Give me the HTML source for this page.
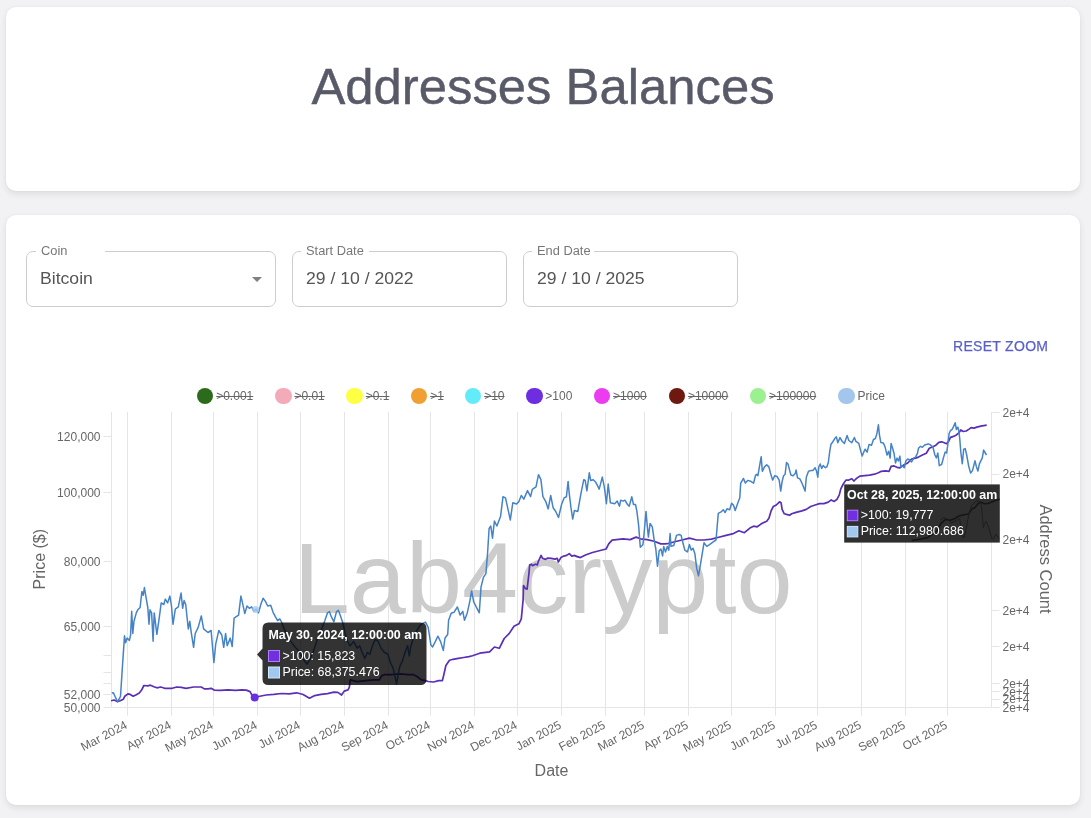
<!DOCTYPE html>
<html><head><meta charset="utf-8"><title>Addresses Balances</title>
<style>
*{box-sizing:border-box;margin:0;padding:0}
html,body{width:1091px;height:818px;overflow:hidden}
body{background:#f2f2f4;font-family:"Liberation Sans",sans-serif;position:relative}
.card{position:absolute;left:6px;width:1074px;background:#fff;border-radius:10px;box-shadow:0 3px 7px 0 rgba(0,0,0,0.09),0 0 2px 0 rgba(0,0,0,0.06)}
.c1{top:7px;height:184px}
.c2{top:215px;height:590px}
h1{position:absolute;left:6px;width:1074px;top:57.7px;text-align:center;font-size:50.8px;font-weight:normal;color:#585a68;line-height:57px;-webkit-text-stroke:0.45px #585a68}
.fld{position:absolute;top:251px;height:56px;border:1px solid #cdcdcd;border-radius:7px}
.notch{position:absolute;top:-2px;height:4px;background:#fff}
.lbl{position:absolute;top:244px;font-size:12px;color:#777;line-height:14px;transform:scaleX(1.07);transform-origin:0 0}
.val{position:absolute;top:270px;font-size:16px;color:#555;line-height:18px;transform:scaleX(1.1);transform-origin:0 0}
.arrow{position:absolute;left:252px;top:277px;width:0;height:0;border-left:5px solid transparent;border-right:5px solid transparent;border-top:5px solid #808080}
.reset{position:absolute;left:953px;top:338px;font-size:14px;color:#5b5fc7;letter-spacing:0.3px;line-height:16px;font-weight:normal;-webkit-text-stroke:0.25px #5b5fc7}
.lg-dot{position:absolute;top:387.7px;width:16.6px;height:16.6px;border-radius:50%}
.lg-t{position:absolute;top:389px;font-size:12px;line-height:14px;color:#666}
.st{text-decoration:line-through;text-decoration-thickness:1px}
.chart{position:absolute;left:0;top:0;font-family:"Liberation Sans",sans-serif;will-change:transform}
.layer{position:absolute;left:0;top:0;width:1091px;height:818px;will-change:transform}
</style></head>
<body>
<div class="card c1"></div>
<div class="card c2"></div>
<div class="layer">
<h1>Addresses Balances</h1>
<div class="fld" style="left:26px;width:250px"><div class="notch" style="left:9px;width:69px"></div></div>
<div class="lbl" style="left:40.5px">Coin</div>
<div class="val" style="left:40px">Bitcoin</div>
<div class="arrow"></div>
<div class="fld" style="left:292px;width:215px"><div class="notch" style="left:8px;width:68px"></div></div>
<div class="lbl" style="left:305.5px">Start Date</div>
<div class="val" style="left:305.5px">29 / 10 / 2022</div>
<div class="fld" style="left:523px;width:215px"><div class="notch" style="left:8px;width:62px"></div></div>
<div class="lbl" style="left:536.5px">End Date</div>
<div class="val" style="left:536.5px">29 / 10 / 2025</div>
<div class="reset">RESET ZOOM</div>
<div class="lg-dot" style="left:196.9px;background:#2c6b1c"></div>
<div class="lg-t st" style="left:216.2px">&gt;0.001</div>
<div class="lg-dot" style="left:275.1px;background:#f3aab9"></div>
<div class="lg-t st" style="left:294.4px">&gt;0.01</div>
<div class="lg-dot" style="left:346.4px;background:#ffff44"></div>
<div class="lg-t st" style="left:365.7px">&gt;0.1</div>
<div class="lg-dot" style="left:410.9px;background:#f0a032"></div>
<div class="lg-t st" style="left:430.2px">&gt;1</div>
<div class="lg-dot" style="left:464.9px;background:#64ebfa"></div>
<div class="lg-t st" style="left:484.2px">&gt;10</div>
<div class="lg-dot" style="left:526.0px;background:#6e2de1"></div>
<div class="lg-t" style="left:545.3px">&gt;100</div>
<div class="lg-dot" style="left:593.8px;background:#eb3cf0"></div>
<div class="lg-t st" style="left:613.1px">&gt;1000</div>
<div class="lg-dot" style="left:668.6px;background:#6e190f"></div>
<div class="lg-t st" style="left:687.9px">&gt;10000</div>
<div class="lg-dot" style="left:749.8px;background:#9bf091"></div>
<div class="lg-t st" style="left:769.1px">&gt;100000</div>
<div class="lg-dot" style="left:838.2px;background:#a3c6ec"></div>
<div class="lg-t" style="left:857.5px">Price</div>
</div>
<svg class="chart" width="1091" height="818" viewBox="0 0 1091 818">
<path d="M127.5,412V715.5 M171.5,412V715.5 M213.5,412V715.5 M257.5,412V715.5 M300.5,412V715.5 M344.5,412V715.5 M388.5,412V715.5 M430.5,412V715.5 M474.5,412V715.5 M517.5,412V715.5 M561.5,412V715.5 M605.5,412V715.5 M644.5,412V715.5 M688.5,412V715.5 M731.5,412V715.5 M775.5,412V715.5 M817.5,412V715.5 M861.5,412V715.5 M905.5,412V715.5 M947.5,412V715.5 M111.5,412V707.5 M991.5,412V707.5 M111.5,707.5H991.5 M103.5,436.5H111.5 M103.5,492.5H111.5 M103.5,561.5H111.5 M103.5,626.5H111.5 M103.5,655.5H111.5 M103.5,672.5H111.5 M103.5,683.5H111.5 M103.5,694.5H111.5 M103.5,707.5H111.5 M991.5,412.5H999.5 M991.5,474.5H999.5 M991.5,539.5H999.5 M991.5,610.5H999.5 M991.5,646.5H999.5 M991.5,683.5H999.5 M991.5,691.5H999.5 M991.5,699.5H999.5 M991.5,707.5H999.5" stroke="#e5e5e5" stroke-width="1" fill="none"/>
<text transform="translate(293.8,612.5) scale(1.008,1)" x="0" y="0" font-size="100" fill="#cccccc">Lab4crypto</text>
<text x="100.5" y="440.7" font-size="12" fill="#666" text-anchor="end">120,000</text>
<text x="100.5" y="497.2" font-size="12" fill="#666" text-anchor="end">100,000</text>
<text x="100.5" y="565.5" font-size="12" fill="#666" text-anchor="end">80,000</text>
<text x="100.5" y="630.5" font-size="12" fill="#666" text-anchor="end">65,000</text>
<text x="100.5" y="698.5" font-size="12" fill="#666" text-anchor="end">52,000</text>
<text x="100.5" y="711.5" font-size="12" fill="#666" text-anchor="end">50,000</text>
<text x="1002.5" y="416.5" font-size="12" fill="#666">2e+4</text>
<text x="1002.5" y="478.2" font-size="12" fill="#666">2e+4</text>
<text x="1002.5" y="543.9" font-size="12" fill="#666">2e+4</text>
<text x="1002.5" y="614.6" font-size="12" fill="#666">2e+4</text>
<text x="1002.5" y="650.5" font-size="12" fill="#666">2e+4</text>
<text x="1002.5" y="687.6" font-size="12" fill="#666">2e+4</text>
<text x="1002.5" y="695.7" font-size="12" fill="#666">2e+4</text>
<text x="1002.5" y="703.4" font-size="12" fill="#666">2e+4</text>
<text x="1002.5" y="711.5" font-size="12" fill="#666">2e+4</text>
<text transform="translate(124.5,720.5) rotate(-28)" x="0" y="8" font-size="12" fill="#666" text-anchor="end">Mar 2024</text>
<text transform="translate(168.5,720.5) rotate(-28)" x="0" y="8" font-size="12" fill="#666" text-anchor="end">Apr 2024</text>
<text transform="translate(210.5,720.5) rotate(-28)" x="0" y="8" font-size="12" fill="#666" text-anchor="end">May 2024</text>
<text transform="translate(254.5,720.5) rotate(-28)" x="0" y="8" font-size="12" fill="#666" text-anchor="end">Jun 2024</text>
<text transform="translate(297.5,720.5) rotate(-28)" x="0" y="8" font-size="12" fill="#666" text-anchor="end">Jul 2024</text>
<text transform="translate(341.5,720.5) rotate(-28)" x="0" y="8" font-size="12" fill="#666" text-anchor="end">Aug 2024</text>
<text transform="translate(385.5,720.5) rotate(-28)" x="0" y="8" font-size="12" fill="#666" text-anchor="end">Sep 2024</text>
<text transform="translate(427.5,720.5) rotate(-28)" x="0" y="8" font-size="12" fill="#666" text-anchor="end">Oct 2024</text>
<text transform="translate(471.5,720.5) rotate(-28)" x="0" y="8" font-size="12" fill="#666" text-anchor="end">Nov 2024</text>
<text transform="translate(514.5,720.5) rotate(-28)" x="0" y="8" font-size="12" fill="#666" text-anchor="end">Dec 2024</text>
<text transform="translate(558.5,720.5) rotate(-28)" x="0" y="8" font-size="12" fill="#666" text-anchor="end">Jan 2025</text>
<text transform="translate(602.5,720.5) rotate(-28)" x="0" y="8" font-size="12" fill="#666" text-anchor="end">Feb 2025</text>
<text transform="translate(641.5,720.5) rotate(-28)" x="0" y="8" font-size="12" fill="#666" text-anchor="end">Mar 2025</text>
<text transform="translate(685.5,720.5) rotate(-28)" x="0" y="8" font-size="12" fill="#666" text-anchor="end">Apr 2025</text>
<text transform="translate(728.5,720.5) rotate(-28)" x="0" y="8" font-size="12" fill="#666" text-anchor="end">May 2025</text>
<text transform="translate(772.5,720.5) rotate(-28)" x="0" y="8" font-size="12" fill="#666" text-anchor="end">Jun 2025</text>
<text transform="translate(814.5,720.5) rotate(-28)" x="0" y="8" font-size="12" fill="#666" text-anchor="end">Jul 2025</text>
<text transform="translate(858.5,720.5) rotate(-28)" x="0" y="8" font-size="12" fill="#666" text-anchor="end">Aug 2025</text>
<text transform="translate(902.5,720.5) rotate(-28)" x="0" y="8" font-size="12" fill="#666" text-anchor="end">Sep 2025</text>
<text transform="translate(944.5,720.5) rotate(-28)" x="0" y="8" font-size="12" fill="#666" text-anchor="end">Oct 2025</text>
<text x="551.5" y="776" font-size="16" fill="#666" text-anchor="middle">Date</text>
<text transform="translate(45,559.2) rotate(-90)" x="0" y="0" font-size="16" fill="#666" text-anchor="middle">Price ($)</text>
<text transform="translate(1040.3,559) rotate(90)" x="0" y="0" font-size="16.5" fill="#666" text-anchor="middle">Address Count</text>
<path d="M111.1,700.8 L114.1,700.0 L117.2,701.6 L120.2,700.8 L123.3,699.3 L124.8,696.2 L127.9,693.9 L130.2,694.4 L133.2,696.2 L136.3,694.7 L139.3,693.1 L141.6,690.1 L143.9,685.5 L147.8,685.8 L150.5,685.2 L153.9,686.7 L156.9,687.8 L160.8,687.0 L164.6,688.3 L172.2,688.3 L176.8,687.0 L181.4,687.3 L186.0,688.3 L193.6,687.0 L201.3,687.0 L204.3,688.9 L208.0,688.9 L211.1,688.3 L214.2,690.1 L220.3,690.4 L227.9,689.8 L235.6,690.4 L241.7,689.8 L246.3,690.1 L250.1,691.6 L252.4,696.2 L254.7,697.4 L258.5,696.5 L266.2,695.0 L273.8,694.4 L281.5,693.5 L289.1,693.9 L296.7,692.8 L303.1,694.5 L309.5,698.2 L314.7,695.6 L321.1,694.4 L327.5,693.7 L333.9,692.2 L337.8,692.4 L341.6,695.0 L344.2,691.1 L348.0,689.9 L349.3,687.3 L350.3,679.9 L357.1,681.6 L365.7,680.7 L374.2,679.9 L379.3,679.9 L381.9,675.6 L384.5,674.7 L391.3,674.7 L399.9,673.9 L408.4,674.7 L413.6,674.7 L417.0,676.5 L421.3,679.9 L425.5,680.6 L428.2,681.5 L433.5,682.0 L438.8,680.6 L442.4,680.6 L444.1,673.5 L445.9,665.5 L449.5,660.2 L453.0,659.3 L458.3,658.4 L463.7,657.5 L469.0,656.6 L472.5,655.7 L479.8,653.2 L489.6,651.9 L494.4,647.0 L499.3,648.3 L504.2,638.5 L509.1,633.6 L514.0,626.3 L518.9,623.8 L521.3,618.9 L523.1,600.0 L523.5,585.5 L525.3,588.4 L527.1,589.1 L529.0,573.0 L529.7,564.9 L531.5,564.2 L532.6,565.7 L535.2,564.2 L537.4,564.9 L538.1,562.0 L541.1,555.4 L542.5,558.3 L545.5,559.4 L547.7,558.0 L551.3,558.3 L555.0,559.1 L557.2,558.3 L558.3,562.0 L560.9,557.6 L563.8,556.1 L566.7,555.4 L569.3,553.6 L571.8,556.1 L574.8,555.4 L577.7,556.9 L575.3,555.9 L580.4,557.6 L585.5,555.0 L592.4,552.5 L599.2,550.8 L606.1,549.0 L608.7,543.9 L612.1,540.1 L616.4,539.6 L623.2,538.8 L630.1,539.6 L636.1,537.1 L640.3,538.8 L647.2,539.6 L654.0,541.3 L660.9,543.9 L665.0,543.9 L667.3,543.7 L674.7,541.8 L682.0,540.0 L689.4,538.2 L696.7,540.0 L704.0,540.0 L711.4,539.1 L718.7,537.2 L726.1,535.4 L733.4,533.6 L738.9,530.8 L744.4,532.7 L749.9,528.1 L753.6,526.2 L757.2,526.8 L760.9,524.1 L763.8,522.6 L766.7,521.2 L768.9,518.2 L771.1,510.9 L773.3,506.5 L776.3,505.0 L778.5,502.8 L779.9,501.8 L781.1,502.8 L782.1,509.4 L784.3,513.8 L787.3,514.6 L789.5,515.3 L791.7,513.8 L796.1,512.4 L801.9,510.9 L806.3,509.4 L810.7,506.5 L815.1,505.0 L819.5,503.6 L823.9,503.6 L828.3,502.1 L831.2,499.9 L834.2,501.4 L837.1,499.2 L839.3,494.8 L840.8,488.9 L843.0,484.5 L845.9,480.1 L848.8,480.1 L851.8,478.7 L853.9,481.0 L856.8,478.1 L859.8,476.2 L864.7,475.7 L869.6,475.2 L874.5,474.2 L878.4,472.7 L881.3,471.3 L885.2,470.8 L889.1,471.3 L891.1,466.4 L894.0,465.9 L897.0,467.3 L899.9,467.8 L903.8,464.9 L907.7,463.0 L911.6,459.0 L915.6,458.1 L918.5,457.1 L922.4,455.1 L926.3,453.2 L929.3,448.3 L932.9,446.7 L935.9,445.2 L938.8,442.3 L941.7,441.8 L944.2,442.7 L946.6,443.7 L948.6,441.3 L950.5,437.4 L953.5,436.4 L956.4,434.9 L958.8,433.0 L960.8,430.0 L963.2,431.5 L966.2,431.0 L969.1,429.1 L971.1,427.6 L974.0,428.1 L976.9,427.1 L980.8,426.1 L983.8,425.6 L986.7,425.2" stroke="#5a2eb5" stroke-width="1.7" fill="none" stroke-linejoin="round"/>
<path d="M111.8,693.1 L113.4,692.8 L115.6,697.7 L117.5,701.6 L119.5,698.5 L120.5,696.2 L122.5,665.6 L124.5,635.8 L125.6,642.7 L127.1,638.1 L129.4,640.4 L130.6,635.0 L131.7,611.3 L132.8,633.5 L134.0,621.3 L136.3,612.9 L137.8,609.8 L140.1,607.5 L141.9,591.5 L143.2,595.3 L144.4,587.6 L146.2,598.3 L147.8,607.5 L149.0,624.3 L150.0,609.8 L151.6,612.9 L153.1,641.2 L154.2,612.9 L156.9,634.3 L159.2,618.2 L161.2,602.9 L163.8,604.5 L165.3,599.1 L167.6,602.9 L169.9,596.1 L171.5,606.0 L173.0,624.3 L175.3,609.1 L178.3,606.8 L181.1,593.0 L182.6,608.3 L184.1,600.6 L185.7,604.5 L188.3,628.9 L189.8,621.3 L191.3,632.8 L193.6,647.3 L195.2,633.5 L198.2,627.4 L201.3,615.9 L203.6,628.9 L208.0,632.5 L211.1,630.5 L213.9,662.6 L215.7,644.2 L218.8,630.5 L221.8,635.0 L223.7,647.3 L225.6,633.5 L227.2,645.7 L230.2,638.1 L232.2,646.5 L234.1,618.2 L236.3,616.7 L238.6,615.2 L240.9,596.1 L242.5,602.9 L244.8,613.6 L247.0,606.0 L249.3,608.3 L251.6,606.8 L253.9,611.3 L256.2,609.1 L258.5,612.9 L260.8,604.5 L263.1,598.3 L265.4,601.4 L267.7,606.0 L270.7,605.2 L273.0,612.1 L275.3,616.7 L277.6,620.5 L279.9,619.0 L281.5,622.0 L283.9,628.2 L287.7,637.2 L291.6,642.4 L295.4,647.5 L299.3,651.3 L303.1,659.0 L307.0,664.2 L309.5,660.3 L313.4,651.3 L317.2,639.8 L321.1,630.8 L324.9,620.5 L327.5,612.8 L329.4,611.6 L331.3,616.7 L333.9,621.8 L336.5,611.6 L338.4,610.3 L340.3,615.4 L342.9,623.1 L345.1,633.0 L347.0,640.0 L350.0,646.0 L353.7,641.4 L357.1,648.2 L359.7,645.7 L362.2,652.5 L364.8,658.5 L367.4,652.5 L369.9,654.2 L372.5,645.7 L375.1,639.7 L377.6,640.5 L381.1,648.2 L384.5,652.5 L387.9,654.2 L390.5,662.8 L393.0,667.9 L394.7,674.7 L396.5,684.2 L398.2,674.7 L399.9,666.2 L402.4,661.1 L405.0,652.5 L407.6,645.7 L409.3,655.9 L411.0,645.7 L412.7,640.5 L416.0,632.0 L420.4,625.1 L423.0,623.4 L425.5,622.1 L428.2,627.4 L430.9,645.1 L432.6,646.9 L435.3,641.6 L437.9,636.2 L440.6,641.6 L443.3,650.4 L445.0,638.0 L447.7,634.5 L448.6,620.3 L451.2,613.2 L453.9,612.3 L457.4,607.0 L460.1,615.0 L462.8,611.4 L464.5,620.3 L467.2,613.2 L469.9,600.8 L471.6,591.0 L473.7,601.8 L476.1,606.7 L479.3,612.8 L481.0,587.1 L483.4,577.4 L485.9,573.7 L487.6,552.9 L489.1,528.5 L490.8,526.0 L492.5,538.2 L494.4,521.1 L496.9,526.0 L500.6,516.2 L503.0,496.7 L505.5,497.9 L507.9,508.9 L510.3,519.9 L512.8,502.8 L516.5,504.0 L518.9,501.6 L521.3,495.5 L523.8,499.1 L527.5,490.6 L530.6,496.7 L532.3,489.3 L536.0,486.9 L538.5,474.7 L540.9,479.6 L542.9,496.7 L545.8,501.6 L548.2,508.9 L550.7,495.5 L553.1,507.7 L555.6,511.3 L558.5,517.5 L561.7,504.0 L564.1,497.9 L566.4,496.8 L568.1,481.4 L569.3,494.2 L571.0,507.9 L572.7,519.1 L574.4,510.5 L577.8,511.4 L579.6,501.1 L581.3,491.7 L583.8,479.7 L585.2,480.5 L586.9,490.8 L589.3,472.8 L590.7,480.5 L593.3,479.7 L595.8,482.3 L597.5,485.7 L599.2,489.1 L602.3,477.1 L604.4,487.4 L606.4,503.7 L608.2,484.0 L610.4,502.8 L614.7,503.7 L617.2,501.1 L619.5,506.2 L620.7,500.2 L623.2,501.1 L624.9,500.2 L627.5,504.5 L629.2,506.2 L631.8,496.8 L633.5,504.5 L635.5,504.5 L636.9,511.4 L638.6,525.1 L640.3,547.3 L642.9,544.8 L644.1,533.6 L646.0,511.4 L647.2,525.1 L648.4,537.1 L650.1,523.4 L652.3,526.8 L654.0,538.8 L655.8,549.0 L657.5,566.2 L659.2,550.8 L660.9,549.0 L662.6,555.9 L663.7,546.4 L665.5,551.9 L667.3,546.4 L668.8,550.1 L670.1,533.6 L671.0,546.4 L673.8,545.5 L676.5,535.4 L679.3,534.5 L681.1,535.4 L682.9,542.8 L684.8,550.1 L687.5,551.9 L689.4,544.6 L691.2,550.1 L693.0,548.3 L694.9,553.8 L696.7,568.4 L698.5,575.8 L700.4,564.8 L702.2,553.8 L704.0,542.8 L706.8,546.4 L709.5,544.6 L713.2,541.8 L716.0,540.0 L717.2,526.2 L718.3,513.4 L721.5,511.6 L723.3,509.7 L725.1,512.5 L727.0,508.8 L729.7,509.7 L731.6,503.3 L733.4,505.1 L735.2,510.6 L738.0,502.4 L739.8,497.8 L740.7,483.1 L743.5,478.5 L745.3,483.1 L747.7,480.4 L750.8,481.3 L753.6,483.1 L755.4,475.8 L756.5,474.3 L757.9,475.7 L759.4,466.9 L761.2,456.7 L762.3,471.3 L764.5,466.9 L766.7,464.7 L768.9,466.9 L770.4,472.8 L772.6,480.1 L774.8,475.7 L777.0,476.5 L779.2,480.1 L780.7,491.1 L782.1,481.6 L783.6,475.7 L785.1,474.3 L786.5,462.5 L788.0,464.0 L789.5,469.9 L790.9,475.0 L793.1,475.7 L795.3,473.5 L796.1,469.9 L797.5,477.9 L799.7,478.7 L801.9,483.0 L803.4,486.7 L805.1,491.1 L806.3,477.2 L808.5,471.3 L810.7,470.6 L812.9,470.6 L815.1,467.7 L816.6,471.3 L817.8,477.2 L818.8,466.9 L820.2,464.0 L821.7,468.4 L823.2,465.5 L825.4,467.7 L826.8,466.9 L828.3,462.5 L829.8,450.8 L831.0,444.2 L832.7,442.0 L834.9,438.3 L836.4,436.9 L837.8,442.7 L840.0,437.6 L842.2,441.3 L844.4,443.5 L847.1,435.4 L848.8,440.5 L851.8,442.7 L854.4,437.5 L855.9,441.4 L858.8,443.4 L860.8,451.2 L862.2,456.1 L863.7,452.2 L865.2,449.2 L867.1,452.2 L869.1,444.4 L871.5,445.3 L873.5,439.5 L875.4,438.5 L876.9,433.6 L878.4,424.8 L879.4,434.6 L880.8,442.4 L883.3,442.9 L885.2,447.3 L887.0,455.1 L888.6,451.2 L890.1,458.1 L891.1,443.4 L892.6,448.3 L894.0,453.2 L895.5,463.0 L897.0,458.1 L898.4,461.0 L899.9,456.1 L900.9,466.9 L902.3,465.9 L904.3,467.8 L905.8,461.0 L907.7,459.0 L909.7,460.0 L911.6,462.0 L913.6,458.1 L915.6,457.1 L917.5,453.2 L918.5,448.3 L920.5,446.3 L922.4,447.3 L924.4,445.3 L926.3,444.4 L928.3,443.9 L929.7,444.4 L932.9,447.1 L934.9,455.0 L936.4,457.9 L937.8,453.0 L939.3,465.7 L941.7,464.3 L943.7,456.9 L945.2,452.0 L946.6,453.0 L947.6,446.2 L949.1,433.5 L950.5,430.5 L952.0,429.6 L953.5,426.6 L955.2,422.7 L956.4,429.6 L957.9,427.1 L958.8,430.5 L959.8,439.3 L960.8,452.0 L962.3,463.8 L963.7,449.1 L965.2,448.6 L966.7,455.0 L968.6,465.7 L970.6,473.0 L972.5,470.6 L975.0,460.8 L976.4,466.7 L977.9,471.1 L979.4,463.8 L981.3,459.9 L982.3,457.9 L983.6,450.1 L984.7,452.0 L986.5,455.0" stroke="#4683c6" stroke-width="1.5" fill="none" stroke-linejoin="round"/>
<circle cx="254.7" cy="697.4" r="4" fill="#6a2fe0"/>
<circle cx="255.7" cy="609.5" r="3.5" fill="#a9cdf0" opacity="0.8"/>
<g>
<path d="M268.5,622.5 H420.5 Q426.5,622.5 426.5,628.5 V679 Q426.5,685 420.5,685 H268.5 Q262.5,685 262.5,679 V660.5 L257,654.5 L262.5,648.5 V628.5 Q262.5,622.5 268.5,622.5 Z" fill="rgba(0,0,0,0.8)"/>
<text x="268.5" y="638.8" font-size="12.4" font-weight="bold" fill="#fff">May 30, 2024, 12:00:00 am</text>
<rect x="268.5" y="650.5" width="11" height="11" fill="#7030e0" stroke="#b27cff" stroke-width="1"/>
<text x="282.5" y="659.9" font-size="12.4" fill="#fff">&gt;100: 15,823</text>
<rect x="268.5" y="667" width="11" height="11" fill="#a2c8f0" stroke="#cfe6ff" stroke-width="1"/>
<text x="282.5" y="676" font-size="12.4" fill="#fff">Price: 68,375.476</text>
</g>
<rect x="844.2" y="484.4" width="155.6" height="58.2" fill="#2f2f2f"/>
<path d="M911.9,540.5 L918.3,539.6 L927.5,537.7 L936.7,531.3 L941.2,523.1 L945.8,519.4 L950.4,520.3 L955.0,518.5 L959.6,515.7 L964.2,514.8 L968.7,513.9 L971.5,509.3 L975.2,507.5 L977.9,503.8 L980.7,502.0 L984.3,503.8 L988.0,503.4 L991.7,502.0 L996.2,500.2 L999.5,499.2" stroke="#151515" stroke-width="1.5" fill="none"/>
<path d="M940.3,520.3 L944.0,517.6 L947.7,519.4 L951.3,523.1 L955.0,521.2 L959.6,518.5 L962.3,536.8 L964.2,537.7 L966.0,529.5 L967.8,519.4 L969.7,512.1 L971.5,505.7 L973.3,503.8 L976.1,501.1 L978.8,501.1 L980.7,502.9 L981.6,507.5 L982.5,518.5 L983.4,527.7 L984.3,524.0 L986.2,521.2 L988.0,525.8 L989.8,531.3 L991.7,538.8 L993.5,538.7 L996.2,534.1 L999.0,538.7" stroke="#1e1e1e" stroke-width="1" fill="none"/>
<text x="847" y="498.5" font-size="12.4" font-weight="bold" fill="#fff">Oct 28, 2025, 12:00:00 am</text>
<rect x="847.3" y="510.2" width="10.5" height="10.5" fill="#7030e0" stroke="#b27cff" stroke-width="1"/>
<text x="860.7" y="518.9" font-size="12.4" fill="#fff">&gt;100: 19,777</text>
<rect x="847.3" y="526.4" width="10.5" height="10.5" fill="#a2c8f0" stroke="#cfe6ff" stroke-width="1"/>
<text x="860.7" y="534.9" font-size="12.4" fill="#fff">Price: 112,980.686</text>
</svg>
</body></html>
